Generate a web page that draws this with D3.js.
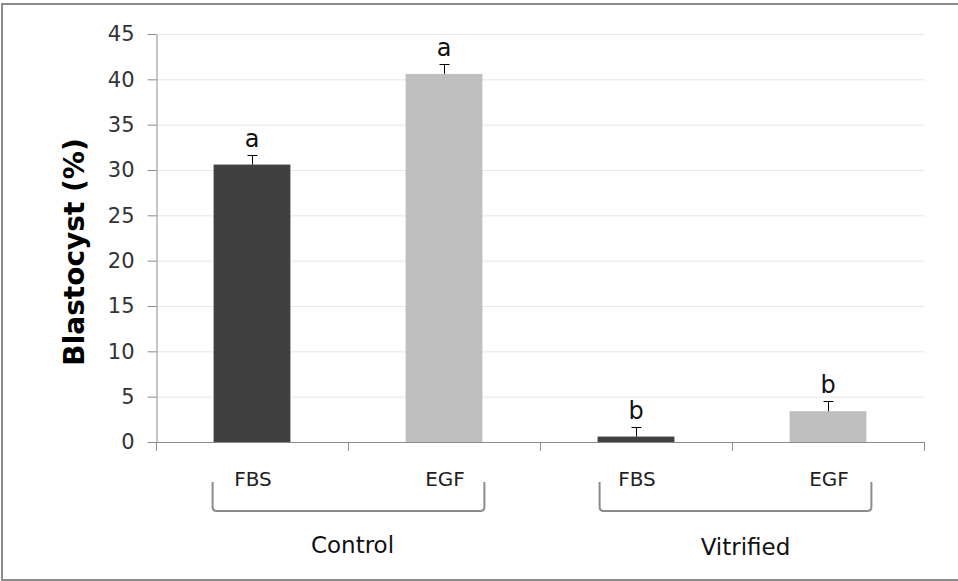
<!DOCTYPE html>
<html>
<head>
<meta charset="utf-8">
<script src="https://cdn.jsdelivr.net/npm/d3@7"></script>
<style>
  html, body { margin: 0; padding: 0; background: #fff; }
  text { font-family: "DejaVu Sans", "Open Sans", sans-serif; }
</style>
</head>
<body>
<svg id="chart"></svg>
<script>
// data
const treatments = ["Control", "Vitrified"];
const media = ["FBS", "EGF", "FBS", "EGF"];
const groupOf = ["Control", "Control", "Vitrified", "Vitrified"];
const values = [30.6, 40.6, 0.6, 3.4];
const errors = [1.1, 1.1, 1.1, 1.1];
const letters = ["a", "a", "b", "b"];
const yTicks = [0, 5, 10, 15, 20, 25, 30, 35, 40, 45];

const colors = { FBS: "#404040", EGF: "#bfbfbf" };

const W = 958;
const H = 581;
const plot = { left: 156, right: 924, top: 34, bottom: 442 };

const svg = d3.select("#chart").attr("width", W).attr("height", H);

// outer frame
svg.append("rect")
  .attr("x", 2).attr("y", 4)
  .attr("width", W + 10).attr("height", 576)
  .attr("fill", "none")
  .attr("stroke", "#8c8c8c")
  .attr("stroke-width", 2);

const rows = media.map((m, i) => ({
  id: i, medium: m, group: groupOf[i], value: values[i], err: errors[i], letter: letters[i],
}));

const x = d3.scaleBand()
  .domain(rows.map((d) => d.id))
  .range([plot.left, plot.right])
  .paddingInner(0.6)
  .paddingOuter(0.3);

const y = d3.scaleLinear().domain([0, 45]).range([plot.bottom, plot.top]);

const step = x.step();
const catLeft = (i) => plot.left + i * step;

// gridlines
svg.append("g")
  .selectAll("line")
  .data(yTicks.filter((t) => t > 0))
  .join("line")
  .attr("x1", plot.left).attr("x2", plot.right + 1)
  .attr("y1", (d) => y(d) + 0.5).attr("y2", (d) => y(d) + 0.5)
  .attr("stroke", "#e6e6e6")
  .attr("stroke-width", 1);

// y axis
const yAxis = svg.append("g")
  .attr("transform", `translate(${plot.left + 0.5},0)`)
  .call(d3.axisLeft(y).tickValues(yTicks).tickSize(9).tickPadding(13).tickSizeOuter(0));
yAxis.select(".domain").attr("stroke", "#8c8c8c");
yAxis.selectAll(".tick line").attr("stroke", "#8c8c8c");
yAxis.selectAll(".tick text")
  .attr("fill", "#333")
  .attr("font-size", 21)
  .attr("font-family", "'DejaVu Sans', sans-serif");

// x axis line + category boundary ticks
svg.append("line")
  .attr("x1", plot.left).attr("x2", plot.right + 1)
  .attr("y1", plot.bottom + 0.5).attr("y2", plot.bottom + 0.5)
  .attr("stroke", "#8c8c8c");
svg.append("g")
  .selectAll("line")
  .data(d3.range(rows.length + 1))
  .join("line")
  .attr("x1", (i) => catLeft(i) + 0.5).attr("x2", (i) => catLeft(i) + 0.5)
  .attr("y1", plot.bottom).attr("y2", plot.bottom + 9)
  .attr("stroke", "#8c8c8c");

// bars
svg.append("g")
  .selectAll("rect")
  .data(rows)
  .join("rect")
  .attr("x", (d) => x(d.id))
  .attr("y", (d) => y(d.value))
  .attr("width", x.bandwidth())
  .attr("height", (d) => y(0) - y(d.value))
  .attr("fill", (d) => colors[d.medium]);

// error bars (upper only)
const eb = svg.append("g").attr("stroke", "#000").attr("stroke-width", 1);
rows.forEach((d) => {
  const cx = Math.round(x(d.id) + x.bandwidth() / 2) + 0.5;
  const top = Math.round(y(d.value + d.err)) + 0.5;
  eb.append("line").attr("x1", cx).attr("x2", cx).attr("y1", y(d.value)).attr("y2", top);
  eb.append("line").attr("x1", cx - 5).attr("x2", cx + 5).attr("y1", top).attr("y2", top);
});

// significance letters
svg.append("g")
  .selectAll("text")
  .data(rows)
  .join("text")
  .attr("x", (d) => x(d.id) + x.bandwidth() / 2)
  .attr("y", (d) => y(d.value + d.err) - 8)
  .attr("text-anchor", "middle")
  .attr("font-size", 24)
  .attr("fill", "#111")
  .text((d) => d.letter);

// medium labels
svg.append("g")
  .selectAll("text")
  .data(rows)
  .join("text")
  .attr("x", (d) => x(d.id) + x.bandwidth() / 2 + 1)
  .attr("y", 486)
  .attr("text-anchor", "middle")
  .attr("font-size", 20)
  .attr("fill", "#222")
  .text((d) => d.medium);

// brackets + treatment labels
treatments.forEach((t, gi) => {
  const members = rows.filter((d) => d.group === t);
  const x0 = x(members[0].id) - 1 + gi * 3;
  const x1 = x(members[members.length - 1].id) + x.bandwidth() + 2 + gi * 3;
  const y0 = 482, y1 = 511, r = 4;
  const p = d3.path();
  p.moveTo(x0, y0);
  p.lineTo(x0, y1 - r);
  p.quadraticCurveTo(x0, y1, x0 + r, y1);
  p.lineTo(x1 - r, y1);
  p.quadraticCurveTo(x1, y1, x1, y1 - r);
  p.lineTo(x1, y0);
  svg.append("path")
    .attr("d", p.toString())
    .attr("fill", "none")
    .attr("stroke", "#8c8c8c")
    .attr("stroke-width", 2);

  svg.append("text")
    .attr("x", (x0 + x1) / 2 + 4 + gi * 6)
    .attr("y", 553 + gi * 2)
    .attr("text-anchor", "middle")
    .attr("font-size", 23)
    .attr("fill", "#111")
    .text(t);
});

// y title
svg.append("text")
  .attr("transform", `translate(84,${(plot.top + plot.bottom) / 2 + 14}) rotate(-90)`)
  .attr("text-anchor", "middle")
  .attr("font-size", 28)
  .attr("font-weight", "bold")
  .attr("fill", "#000")
  .text("Blastocyst (%)");
</script>
</body>
</html>
